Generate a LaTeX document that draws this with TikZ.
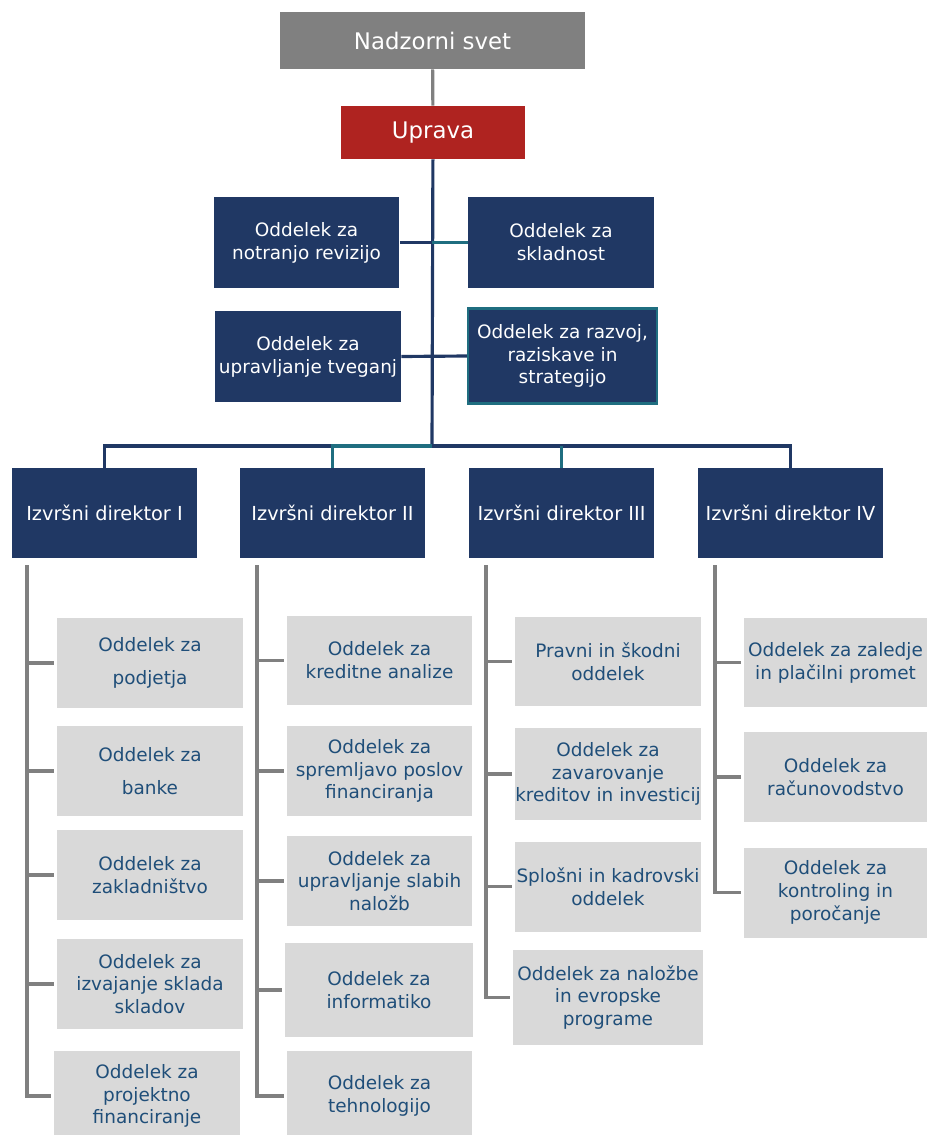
\documentclass[tikz,border=0pt]{standalone}
\usepackage{fontspec}
\setmainfont{DejaVu Sans}
\definecolor{navy}{HTML}{203864}
\definecolor{tealline}{HTML}{1F6E80}
\definecolor{boardgray}{HTML}{808080}
\definecolor{boardred}{HTML}{AF2320}
\definecolor{unitgray}{HTML}{D9D9D9}
\definecolor{unittext}{HTML}{1F4E79}
\begin{document}
\begin{tikzpicture}[x=0.02cm,y=-0.02cm,
  topbox/.style={fill=#1,text=white,font=\fontsize{13}{15}\selectfont,inner sep=0pt},
  navybox/.style={fill=navy,text=white,align=center,font=\fontsize{10.5}{13}\selectfont,
    minimum width=3.72cm,minimum height=1.82cm,inner sep=0pt},
  dirbox/.style={navybox,font=\fontsize{11}{13}\selectfont,minimum height=1.8cm},
  unitbox/.style={fill=unitgray,text=unittext,align=center,font=\fontsize{10.5}{13}\selectfont,
    minimum width=3.72cm,minimum height=1.8cm,inner sep=0pt},
  navyconn/.style={draw=navy,line width=1.8pt},
  tealconn/.style={draw=tealline,line width=1.8pt},
  grayconn/.style={draw=boardgray,line width=1.8pt}]
\useasboundingbox (0,0) rectangle (927,1135);
% top
\node[topbox=boardgray,minimum width=6.1cm,minimum height=1.14cm] (board) at (432.5,40.5) {Nadzorni svet};
\node[topbox=boardred,minimum width=3.68cm,minimum height=1.06cm] (uprava) at (433,132.5) {Uprava};
\node[navybox] (revizija) at (306.5,242.5) {Oddelek za\\notranjo revizijo};
\node[navybox] (skladnost) at (561,242.5) {Oddelek za\\skladnost};
\node[navybox] (tveganja) at (308,356.5) {Oddelek za\\upravljanje tveganj};
\node[navybox,draw=tealline,line width=1.2pt,minimum width=3.78cm,minimum height=1.9cm] (razvoj) at (562.5,356) {Oddelek za razvoj,\\raziskave in\\strategijo};
% directors
\node[dirbox] (dirI) at (104.5,513) {Izvršni direktor I};
\node[dirbox] (dirII) at (332.5,513) {Izvršni direktor II};
\node[dirbox] (dirIII) at (561.5,513) {Izvršni direktor III};
\node[dirbox] (dirIV) at (790.5,513) {Izvršni direktor IV};
% units I
\node[unitbox] (podjetja) at (150,663) {Oddelek za\\[5.5pt]podjetja};
\node[unitbox] (banke) at (150,771) {Oddelek za\\[5.5pt]banke};
\node[unitbox] (zakladnistvo) at (150,875) {Oddelek za\\zakladništvo};
\node[unitbox] (skladi) at (150,984) {Oddelek za\\izvajanje sklada\\skladov};
\node[unitbox] (projektno) at (147,1096) {Oddelek za\\projektno\\financiranje};
% units II
\node[unitbox] (kreditne) at (379.5,660.5) {Oddelek za\\kreditne analize};
\node[unitbox] (spremljava) at (379.5,771) {Oddelek za\\spremljavo poslov\\financiranja};
\node[unitbox] (slabe) at (379.5,881) {Oddelek za\\upravljanje slabih\\naložb};
\node[unitbox,minimum width=3.76cm,minimum height=1.88cm] (informatika) at (379,990) {Oddelek za\\informatiko};
\node[unitbox] (tehnologija) at (379.5,1096) {Oddelek za\\tehnologijo};
% units III
\node[unitbox] (pravni) at (608,661.5) {Pravni in škodni\\oddelek};
\node[unitbox,minimum height=1.84cm] (zavarovanje) at (608,774) {Oddelek za\\zavarovanje\\kreditov in investicij};
\node[unitbox] (splosni) at (608,886.5) {Splošni in kadrovski\\oddelek};
\node[unitbox,minimum width=3.8cm,minimum height=1.9cm] (nalozbe) at (608,997.5) {Oddelek za naložbe\\in evropske\\programe};
% units IV
\node[unitbox,minimum width=3.66cm] (zaledje) at (835.5,662.5) {Oddelek za zaledje\\in plačilni promet};
\node[unitbox,minimum width=3.66cm] (racunovodstvo) at (835.5,777) {Oddelek za\\računovodstvo};
\node[unitbox,minimum width=3.66cm] (kontroling) at (835.5,892.5) {Oddelek za\\kontroling in\\poročanje};
% connectors
\coordinate (bus) at (432,446);
\draw[grayconn] (board) -- (uprava);
\draw[navyconn] (uprava) -- (bus);
\draw[navyconn] (revizija.east) -- (revizija.east -| bus);
\draw[tealconn] (skladnost.west -| bus) -- (skladnost.west);
\draw[navyconn] (tveganja.east) -- (razvoj.west);
\draw[navyconn] (dirI.north) |- (bus) -| (dirIV.north);
\draw[tealconn] (dirII.north) |- (bus);
\draw[tealconn] (dirIII.north) -- (dirIII.north |- bus);
\coordinate (spI) at (27,565);
\coordinate (spII) at (257,565);
\coordinate (spIII) at (486,565);
\coordinate (spIV) at (715,565);
\draw[grayconn,shorten >=1.5pt] (spI) |- (projektno.west);
\foreach \b in {podjetja,banke,zakladnistvo,skladi}
  \draw[grayconn,shorten >=1.5pt] (spI |- \b.west) -- (\b.west);
\draw[grayconn,shorten >=1.5pt] (spII) |- (tehnologija.west);
\foreach \b in {kreditne,spremljava,slabe,informatika}
  \draw[grayconn,shorten >=1.5pt] (spII |- \b.west) -- (\b.west);
\draw[grayconn,shorten >=1.5pt] (spIII) |- (nalozbe.west);
\foreach \b in {pravni,zavarovanje,splosni}
  \draw[grayconn,shorten >=1.5pt] (spIII |- \b.west) -- (\b.west);
\draw[grayconn,shorten >=1.5pt] (spIV) |- (kontroling.west);
\foreach \b in {zaledje,racunovodstvo}
  \draw[grayconn,shorten >=1.5pt] (spIV |- \b.west) -- (\b.west);
\end{tikzpicture}
\end{document}
